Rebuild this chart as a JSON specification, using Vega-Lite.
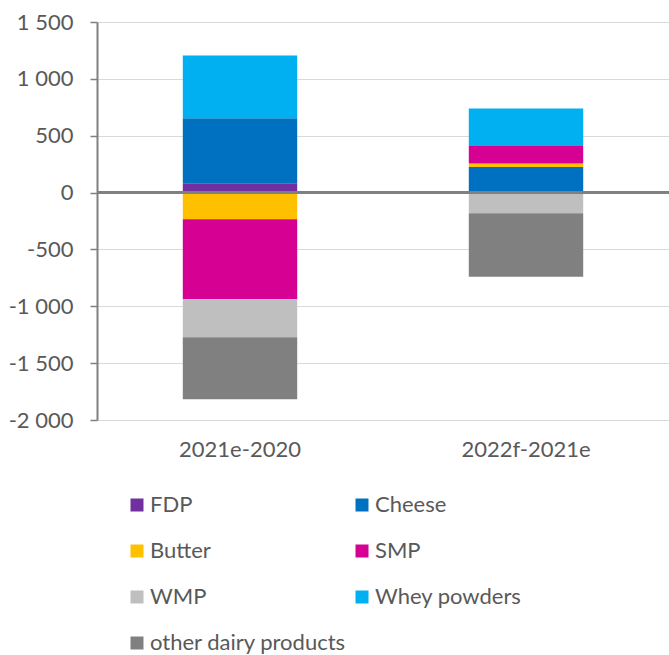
{
  "$schema": "https://vega.github.io/schema/vega-lite/v6.json",
  "width": 572,
  "height": 398,
  "autosize": "none",
  "padding": {"left": 97, "top": 22, "right": 0, "bottom": 235},
  "background": "white",
  "config": {
    "font": "Lato",
    "view": {"stroke": null}
  },
  "data": {
    "values": [
      {"period": "2021e-2020", "product": "FDP", "ord": 1, "value": 82},
      {"period": "2021e-2020", "product": "Cheese", "ord": 2, "value": 572},
      {"period": "2021e-2020", "product": "Butter", "ord": 3, "value": -235},
      {"period": "2021e-2020", "product": "SMP", "ord": 4, "value": -704},
      {"period": "2021e-2020", "product": "WMP", "ord": 5, "value": -334},
      {"period": "2021e-2020", "product": "Whey powders", "ord": 6, "value": 551},
      {"period": "2021e-2020", "product": "other dairy products", "ord": 7, "value": -545},
      {"period": "2022f-2021e", "product": "FDP", "ord": 1, "value": 12},
      {"period": "2022f-2021e", "product": "Cheese", "ord": 2, "value": 213},
      {"period": "2022f-2021e", "product": "Butter", "ord": 3, "value": 30},
      {"period": "2022f-2021e", "product": "SMP", "ord": 4, "value": 155},
      {"period": "2022f-2021e", "product": "WMP", "ord": 5, "value": -182},
      {"period": "2022f-2021e", "product": "Whey powders", "ord": 6, "value": 329},
      {"period": "2022f-2021e", "product": "other dairy products", "ord": 7, "value": -558}
    ]
  },
  "layer": [
    {
      "mark": {"type": "bar"},
      "encoding": {
        "x": {
          "field": "period",
          "type": "nominal",
          "scale": {"paddingInner": 0.6, "paddingOuter": 0.3},
          "axis": {
            "title": null,
            "labelAngle": 0,
            "domain": false,
            "ticks": false,
            "labelPadding": 19,
            "labelFontSize": 22,
            "labelColor": "#595959"
          }
        },
        "y": {
          "field": "value",
          "type": "quantitative",
          "stack": "zero",
          "scale": {"domain": [-2000, 1500], "nice": false, "zero": false},
          "axis": {
            "title": null,
            "values": [-2000, -1500, -1000, -500, 0, 500, 1000, 1500],
            "labelExpr": "(datum.value < 0 ? '-' : '') + replace(format(abs(datum.value), ','), ',', ' ')",
            "labelFontSize": 22,
            "labelColor": "#595959",
            "labelPadding": 17,
            "domainColor": "#808080",
            "domainWidth": 2,
            "tickColor": "#808080",
            "tickSize": 7,
            "tickWidth": 1.5,
            "grid": true,
            "gridColor": "#d9d9d9",
            "gridWidth": 1
          }
        },
        "order": {"field": "ord", "type": "quantitative"},
        "color": {
          "field": "product",
          "type": "nominal",
          "scale": {
            "domain": ["FDP", "Cheese", "Butter", "SMP", "WMP", "Whey powders", "other dairy products"],
            "range": ["#7030A0", "#0070C0", "#FFC000", "#D60093", "#BFBFBF", "#00B0F0", "#808080"]
          },
          "legend": {
            "title": null,
            "orient": "none",
            "legendX": 29,
            "legendY": 472,
            "columns": 2,
            "direction": "horizontal",
            "symbolType": "square",
            "symbolSize": 169,
            "symbolStrokeWidth": 0,
            "labelFontSize": 22,
            "labelColor": "#595959",
            "labelOffset": 2,
            "rowPadding": 24,
            "columnPadding": 4,
            "labelLimit": 300
          }
        }
      }
    },
    {
      "mark": {"type": "rule", "color": "#808080", "strokeWidth": 2},
      "encoding": {"y": {"datum": 0}}
    }
  ]
}
